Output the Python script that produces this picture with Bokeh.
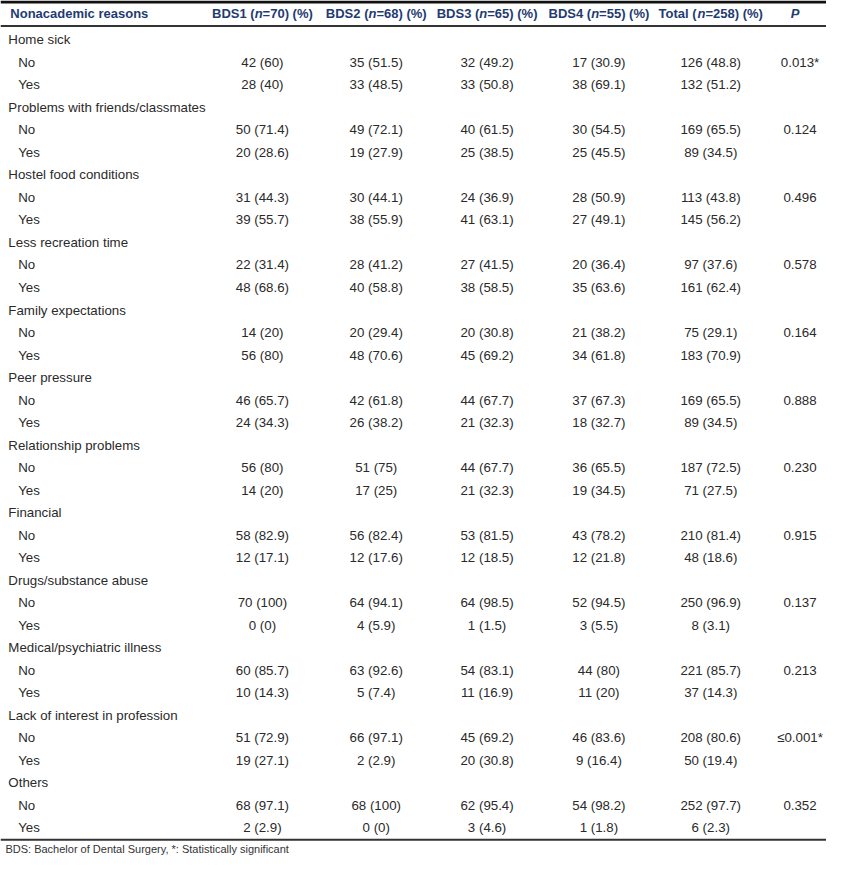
from bokeh.plotting import figure
from bokeh.models import Range1d
from bokeh.core.properties import value
from bokeh.embed import file_html
from bokeh.resources import INLINE

# ---------------- data ----------------
reasons = ["Home sick", "Problems with friends/classmates", "Hostel food conditions",
           "Less recreation time", "Family expectations", "Peer pressure",
           "Relationship problems", "Financial", "Drugs/substance abuse",
           "Medical/psychiatric illness", "Lack of interest in profession", "Others"]

# header pieces: (before italic n, italic n, after)
header_pre = ["BDS1 (", "BDS2 (", "BDS3 (", "BDS4 (", "Total ("]
header_n = ["n", "n", "n", "n", "n"]
header_post = ["=70) (%)", "=68) (%)", "=65) (%)", "=55) (%)", "=258) (%)"]

bds1_no = [42, 50, 31, 22, 14, 46, 56, 58, 70, 60, 51, 68]
bds1_no_pct = [60, 71.4, 44.3, 31.4, 20, 65.7, 80, 82.9, 100, 85.7, 72.9, 97.1]
bds1_yes = [28, 20, 39, 48, 56, 24, 14, 12, 0, 10, 19, 2]
bds1_yes_pct = [40, 28.6, 55.7, 68.6, 80, 34.3, 20, 17.1, 0, 14.3, 27.1, 2.9]

bds2_no = [35, 49, 30, 28, 20, 42, 51, 56, 64, 63, 66, 68]
bds2_no_pct = [51.5, 72.1, 44.1, 41.2, 29.4, 61.8, 75, 82.4, 94.1, 92.6, 97.1, 100]
bds2_yes = [33, 19, 38, 40, 48, 26, 17, 12, 4, 5, 2, 0]
bds2_yes_pct = [48.5, 27.9, 55.9, 58.8, 70.6, 38.2, 25, 17.6, 5.9, 7.4, 2.9, 0]

bds3_no = [32, 40, 24, 27, 20, 44, 44, 53, 64, 54, 45, 62]
bds3_no_pct = [49.2, 61.5, 36.9, 41.5, 30.8, 67.7, 67.7, 81.5, 98.5, 83.1, 69.2, 95.4]
bds3_yes = [33, 25, 41, 38, 45, 21, 21, 12, 1, 11, 20, 3]
bds3_yes_pct = [50.8, 38.5, 63.1, 58.5, 69.2, 32.3, 32.3, 18.5, 1.5, 16.9, 30.8, 4.6]

bds4_no = [17, 30, 28, 20, 21, 37, 36, 43, 52, 44, 46, 54]
bds4_no_pct = [30.9, 54.5, 50.9, 36.4, 38.2, 67.3, 65.5, 78.2, 94.5, 80, 83.6, 98.2]
bds4_yes = [38, 25, 27, 35, 34, 18, 19, 12, 3, 11, 9, 1]
bds4_yes_pct = [69.1, 45.5, 49.1, 63.6, 61.8, 32.7, 34.5, 21.8, 5.5, 20, 16.4, 1.8]

total_no = [126, 169, 113, 97, 75, 169, 187, 210, 250, 221, 208, 252]
total_no_pct = [48.8, 65.5, 43.8, 37.6, 29.1, 65.5, 72.5, 81.4, 96.9, 85.7, 80.6, 97.7]
total_yes = [132, 89, 145, 161, 183, 89, 71, 48, 8, 37, 50, 6]
total_yes_pct = [51.2, 34.5, 56.2, 62.4, 70.9, 34.5, 27.5, 18.6, 3.1, 14.3, 19.4, 2.3]

p_values = ["0.013*", "0.124", "0.496", "0.578", "0.164", "0.888", "0.230",
            "0.915", "0.137", "0.213", "\u22640.001*", "0.352"]

footnote = "BDS: Bachelor of Dental Surgery, *: Statistically significant"

# ---------------- layout ----------------
W, H = 842, 873
FW, FH = 826, 857
sx = FW / W            # screen px per data unit
col_x = [267, 383, 496, 610, 724]
p_x = 815
row0 = 40.0
dy = 22.94

p = figure(width=FW, height=FH, output_backend="svg", toolbar_location=None,
           x_range=Range1d(0, W), y_range=Range1d(H, 0), min_border=0)
p.axis.visible = False
p.grid.visible = False
p.outline_line_color = None
p.background_fill_color = "white"
p.border_fill_color = "white"

def fmt(c, pc):
    return f"{c} ({pc:g})"

cols_no = [(bds1_no, bds1_no_pct), (bds2_no, bds2_no_pct), (bds3_no, bds3_no_pct),
           (bds4_no, bds4_no_pct), (total_no, total_no_pct)]
cols_yes = [(bds1_yes, bds1_yes_pct), (bds2_yes, bds2_yes_pct), (bds3_yes, bds3_yes_pct),
            (bds4_yes, bds4_yes_pct), (total_yes, total_yes_pct)]

lab_x, lab_y, lab_t = [], [], []
val_x, val_y, val_t = [], [], []
for i, r in enumerate(reasons):
    y_cat = row0 + dy * 3 * i
    y_no = y_cat + dy
    y_yes = y_cat + 2 * dy
    lab_x += [8, 18, 18]; lab_y += [y_cat, y_no, y_yes]; lab_t += [r, "No", "Yes"]
    for j in range(5):
        c, pc = cols_no[j]
        val_x.append(col_x[j]); val_y.append(y_no); val_t.append(fmt(c[i], pc[i]))
        c, pc = cols_yes[j]
        val_x.append(col_x[j]); val_y.append(y_yes); val_t.append(fmt(c[i], pc[i]))
    val_x.append(p_x); val_y.append(y_no); val_t.append(p_values[i])

body_font = value("Liberation Sans")
txt_color = "#2a2a2a"
BODY_SIZE = 13.3

p.text(x=lab_x, y=lab_y, text=lab_t, text_font=body_font,
       text_font_size=f"{BODY_SIZE}px", text_color=txt_color, text_align="left",
       text_baseline="middle")
p.text(x=val_x, y=val_y, text=val_t, text_font=body_font,
       text_font_size=f"{BODY_SIZE}px", text_color=txt_color, text_align="center",
       text_baseline="middle")

# ---------------- header ----------------
hdr_color = "#1F3B73"
HDR_SIZE = 13.0
# Arial/Liberation Sans Bold advance widths (1/1000 em)
adv = {"B": 722, "D": 722, "S": 667, "T": 611, "o": 611, "t": 333, "a": 556, "l": 278,
       " ": 278, "(": 333, ")": 333, "n": 611, "=": 584, "%": 889}
for d in "0123456789":
    adv[d] = 556

def wdata(s):
    return sum(adv.get(ch, 556) for ch in s) / 1000 * HDR_SIZE / sx

pre_x, n_x, post_x = [], [], []
for j in range(5):
    w1, w2, w3 = wdata(header_pre[j]), wdata(header_n[j]), wdata(header_post[j])
    left = col_x[j] - (w1 + w2 + w3) / 2
    pre_x.append(left)
    n_x.append(left + w1)
    post_x.append(left + w1 + w2)

hy = [13] * 5
common = dict(text_font=body_font, text_font_size=f"{HDR_SIZE}px",
              text_color=hdr_color, text_align="left", text_baseline="middle")
p.text(x=[10], y=[13], text=["Nonacademic reasons"], text_font_style="bold", **common)
p.text(x=pre_x, y=hy, text=header_pre, text_font_style="bold", **common)
p.text(x=n_x, y=hy, text=header_n, text_font_style="bold italic", **common)
p.text(x=post_x, y=hy, text=header_post, text_font_style="bold", **common)
p.text(x=[810], y=[13], text=["P"], text_font=body_font, text_font_style="bold italic",
       text_font_size=f"{HDR_SIZE}px", text_color=hdr_color, text_align="center",
       text_baseline="middle")

# ---------------- rules ----------------
p.segment(x0=[0], y0=[1.5], x1=[W], y1=[1.5], line_color="#111111", line_width=3)
p.segment(x0=[0, 0], y0=[26, 855], x1=[W, W], y1=[26, 855], line_color="#333333",
          line_width=2)

# footnote
p.text(x=[5], y=[864], text=[footnote], text_font=body_font, text_font_size="11px",
       text_color="#333333", text_align="left", text_baseline="middle")

open("out.html", "w").write(file_html(p, INLINE))
